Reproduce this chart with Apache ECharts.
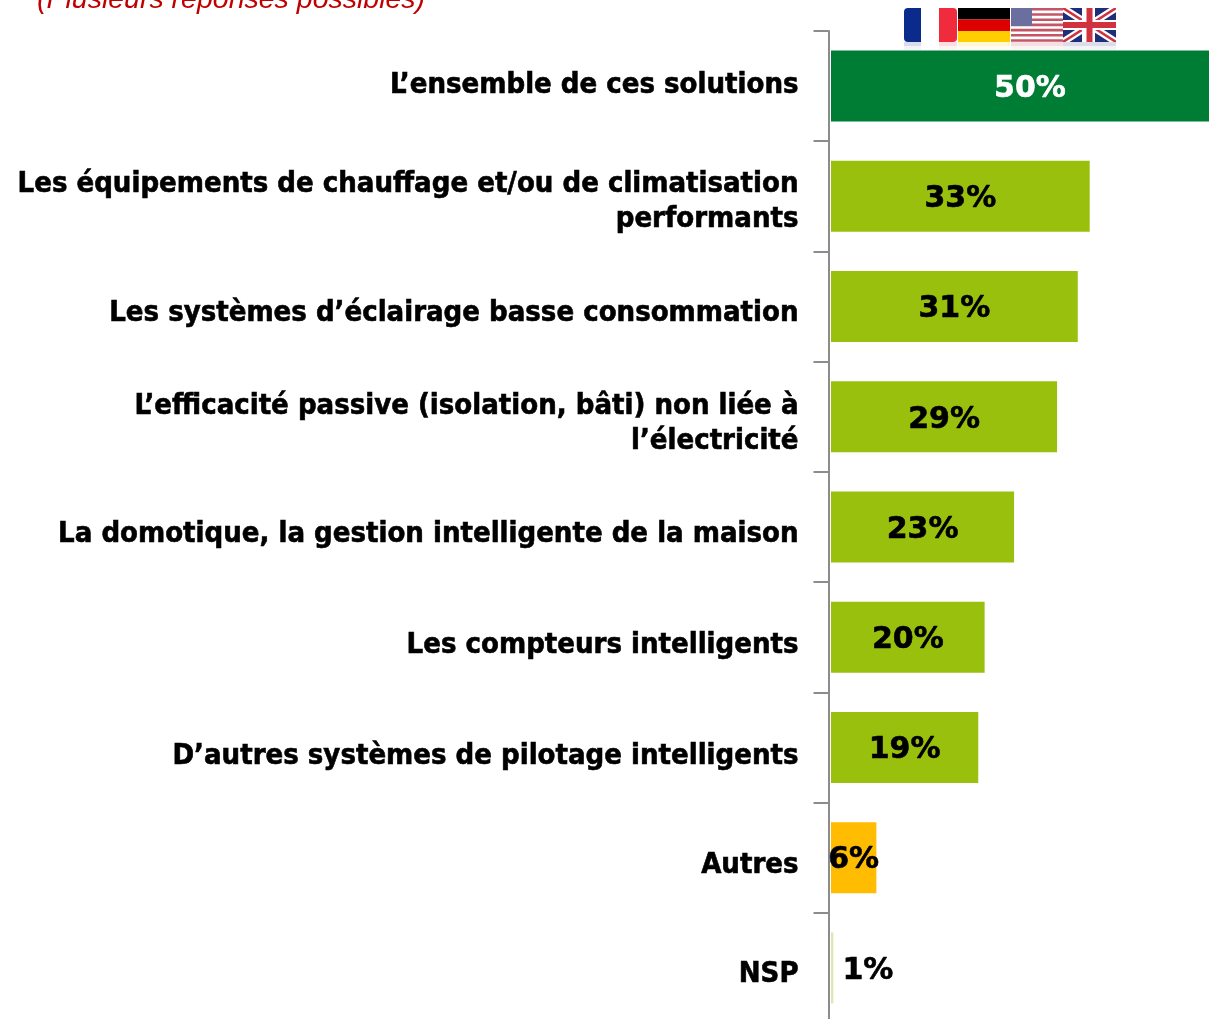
<!DOCTYPE html>
<html><head><meta charset="utf-8">
<style>html,body{margin:0;padding:0;background:#fff;overflow:hidden}#c{width:1209px;height:1019px}</style>
<script src="https://cdn.jsdelivr.net/npm/echarts@6/dist/echarts.min.js"></script>
</head><body><div id="c"></div>
<script>
const categories = [
  "L’ensemble de ces solutions",
  "Les équipements de chauffage et/ou de climatisation\nperformants",
  "Les systèmes d’éclairage basse consommation",
  "L’efficacité passive (isolation, bâti) non liée à\nl’électricité",
  "La domotique, la gestion intelligente de la maison",
  "Les compteurs intelligents",
  "D’autres systèmes de pilotage intelligents",
  "Autres",
  "NSP"
];
const barLengths = [50, 32.5, 31, 28.4, 23, 19.3, 18.5, 5.7, 0.3];
const valueLabels = ["50%", "33%", "31%", "29%", "23%", "20%", "19%", "6%", "1%"];
const barColors = ["#007D34", "#99C00C", "#99C00C", "#99C00C", "#99C00C", "#99C00C", "#99C00C", "#FFBC00", "#DDE8B4"];
const titleText = "(Plusieurs réponses possibles)";
const labelShift = [-1, 6, 7, 7, 7, 8, 9, 8, 7];
const CAT_FONT = '"DejaVu Sans Condensed","DejaVu Sans",sans-serif';
const VAL_FONT = '"DejaVu Sans",sans-serif';

function rect(x,y,w,h,fill,r,op){return {type:'rect',shape:{x,y,width:w,height:h,r:r||0},style:{fill,opacity:op==null?1:op},silent:true};}
function flags(){
  const g=[];
  const T=8,H=34;
  [[904,17,'#0A2A8C'],[939,18,'#EF2B3D'],[958,52,'#FFCE00'],[1011,52,'#C0394B'],[1063,53,'#1C2F78']].forEach(f=>{
    g.push(rect(f[0],T+H,f[1],4,f[2],0,0.16));
    g.push(rect(f[0],T+H+4,f[1],4,f[2],0,0.05));
  });
  g.push(rect(904,T,17,H,'#0A2A8C',[4,0,0,4]));
  g.push(rect(939,T,18,H,'#EF2B3D',[0,4,4,0]));
  g.push(rect(958,T,52,11.5,'#000000'));
  g.push(rect(958,T+11.5,52,11.5,'#DD0000'));
  g.push(rect(958,T+23,52,11,'#FFCE00'));
  g.push(rect(1011,T,52,H,'#FFFFFF'));
  for(let i=0;i<7;i++) g.push(rect(1011,T+i*5.2,52,2.6,'#C45566'));
  g.push(rect(1011,T,21,18,'#6A6FA0'));
  g.push(rect(1063,T,53,H,'#1C2F78'));
  const ln=(x1,y1,x2,y2,w,c)=>({type:'line',shape:{x1,y1,x2,y2},style:{stroke:c,lineWidth:w},silent:true});
  g.push({type:'group',clipPath:{type:'rect',shape:{x:1063,y:T,width:53,height:H}},silent:true,children:[
    ln(1063,T,1116,T+H,7,'#fff'),ln(1116,T,1063,T+H,7,'#fff'),
    ln(1063,T,1116,T+H,2.5,'#D0323F'),ln(1116,T,1063,T+H,2.5,'#D0323F')]});
  g.push(rect(1063,T+12,53,10,'#fff'));
  g.push(rect(1082,T,13,H,'#fff'));
  g.push(rect(1063,T+14,53,6,'#D0323F'));
  g.push(rect(1086.5,T,6,H,'#D0323F'));
  return g;
}
const baseText = {fontFamily:CAT_FONT,fontWeight:'bold',fontSize:29,lineHeight:35,color:'#000',align:'right',textBorderColor:'#000',textBorderWidth:0.6};
const rich = {};
labelShift.forEach((d,i)=>{
  rich['s'+i] = {...baseText,padding:[Math.max(d,0)*2,0,Math.max(-d,0)*2,0]};
});
const chart = echarts.init(document.getElementById('c'));
chart.setOption({
  animation:false,
  backgroundColor:'#fff',
  title:{text:titleText,left:32,top:-19,textStyle:{fontFamily:'"Liberation Sans"',fontStyle:'italic',fontWeight:'normal',fontSize:28.5,color:'#C00000'}},
  grid:{left:831,top:31,width:398,height:992,containLabel:false,outerBoundsMode:'none'},
  xAxis:{type:'value',min:0,max:50,show:false},
  yAxis:{type:'category',inverse:true,offset:2.5,data:categories,
    axisLine:{show:true,onZero:false,lineStyle:{color:'#8C8C8C',width:2}},
    axisTick:{show:true,inside:false,length:15,lineStyle:{color:'#8C8C8C',width:2}},
    axisLabel:{...baseText,margin:30,rich,
      formatter:(v,i)=>v.split('\n').map(t=>`{s${i}|${t}}`).join('\n')},
    splitLine:{show:false}},
  series:[{type:'bar',barWidth:71,
    data:barLengths.map((v,i)=>{const c=i===0?'#fff':'#000';return {value:v,itemStyle:{color:barColors[i]},
      label:{show:true,position:i===8?'right':'inside',distance:i===8?9:0,offset:[0,3],
        formatter:valueLabels[i],color:c,textBorderColor:c,textBorderWidth:0.6,fontFamily:VAL_FONT,fontWeight:'bold',fontSize:30}};})}],
  graphic:flags()
});
</script></body></html>
